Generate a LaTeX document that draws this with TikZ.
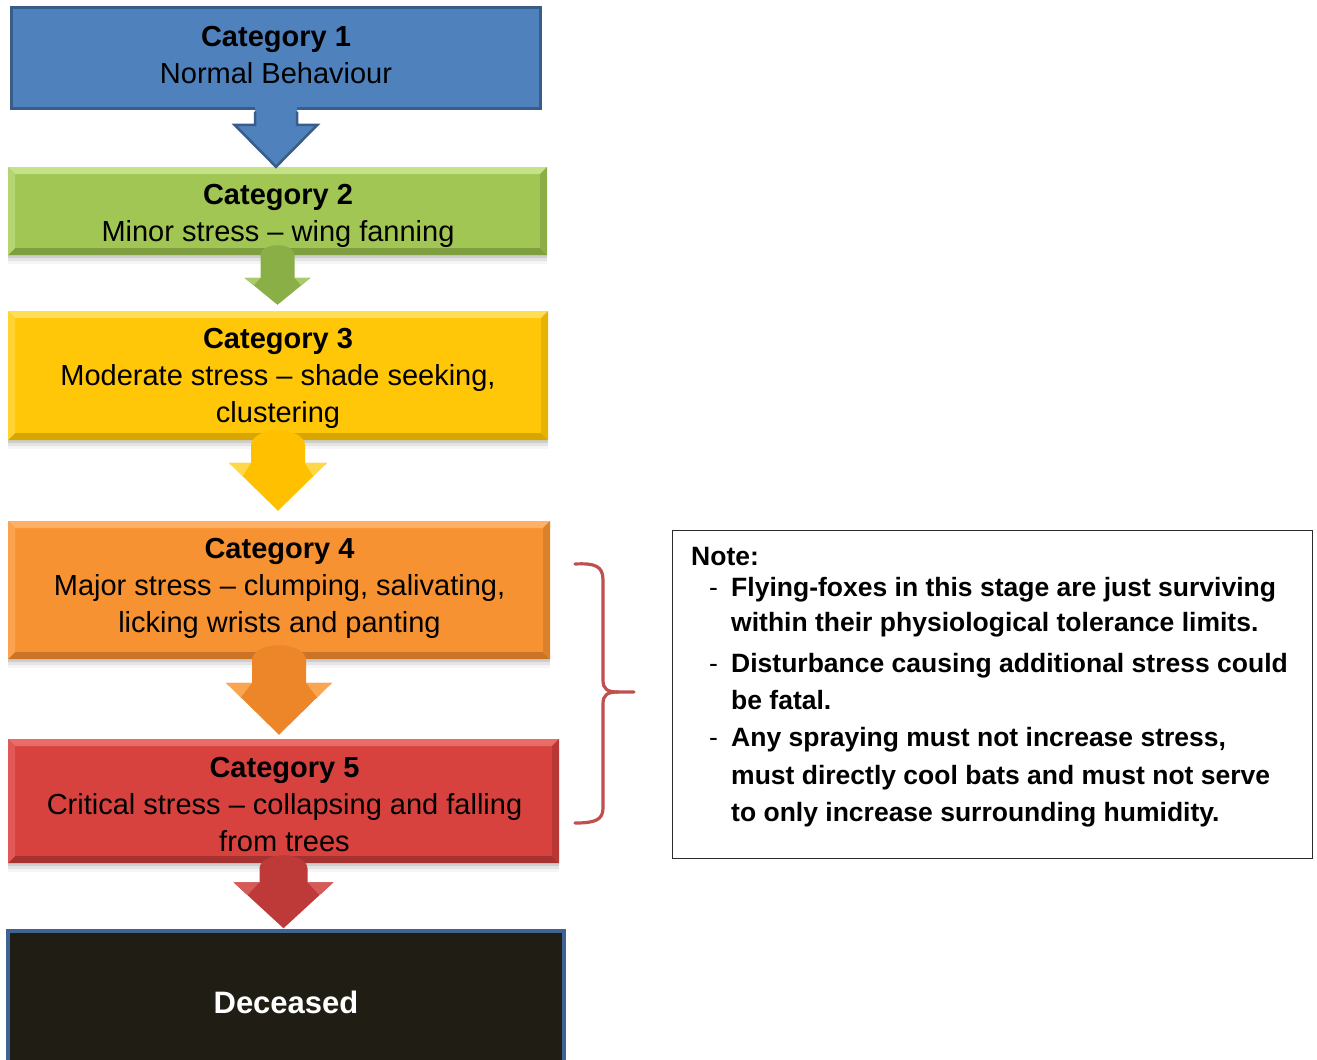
\documentclass[tikz,border=0pt]{standalone}
\usepackage{fontspec}
\setmainfont{Liberation Sans}
\usetikzlibrary{calc}

% palette
\definecolor{blueMain}{HTML}{4F81BD}
\definecolor{blueEdge}{HTML}{385D8A}
\definecolor{greenMain}{HTML}{A1C653}
\definecolor{greenLight}{HTML}{C4E28A}
\definecolor{greenDark}{HTML}{7F9E3F}
\definecolor{greenArrow}{HTML}{8BAF47}
\definecolor{greenFacet}{HTML}{A9CB6C}
\definecolor{yellowMain}{HTML}{FFC708}
\definecolor{yellowLight}{HTML}{FFDD55}
\definecolor{yellowDark}{HTML}{D7A600}
\definecolor{yellowArrow}{HTML}{FFC000}
\definecolor{yellowFacet}{HTML}{FFD84A}
\definecolor{orangeMain}{HTML}{F79232}
\definecolor{orangeLight}{HTML}{FFB066}
\definecolor{orangeDark}{HTML}{CB7326}
\definecolor{orangeArrow}{HTML}{EC8628}
\definecolor{orangeFacet}{HTML}{F9A552}
\definecolor{redMain}{HTML}{D7423F}
\definecolor{redLight}{HTML}{EA6B68}
\definecolor{redDark}{HTML}{A53230}
\definecolor{redArrow}{HTML}{BE3A38}
\definecolor{redFacet}{HTML}{D65A58}
\definecolor{deadFill}{HTML}{201E14}
\definecolor{deadEdge}{HTML}{3F6393}
\definecolor{braceRed}{HTML}{C0504D}
\definecolor{noteEdge}{HTML}{2B2B2B}

\tikzset{
  cattext/.style={inner sep=0pt, align=center, font=\fontsize{29}{37}\selectfont},
  softshadow/.style={
    preaction={fill=black, opacity=.10, transform canvas={yshift=-3pt}},
    preaction={fill=black, opacity=.07, transform canvas={yshift=-6pt}},
    preaction={fill=black, opacity=.04, transform canvas={yshift=-9pt}}},
  % bevelled box: #1 prefix of the colour family
  bevelbox/.style={inner sep=0pt, softshadow, fill=#1Main, path picture={
    \coordinate (pnw) at (path picture bounding box.north west);
    \coordinate (pne) at (path picture bounding box.north east);
    \coordinate (psw) at (path picture bounding box.south west);
    \coordinate (pse) at (path picture bounding box.south east);
    \fill[#1Light] (pnw) -- (pne) -- ([xshift=-7pt,yshift=-7pt]pne) -- ([xshift=7pt,yshift=-7pt]pnw) -- cycle;
    \fill[#1Dark] (psw) -- (pse) -- ([xshift=-7pt,yshift=7pt]pse) -- ([xshift=7pt,yshift=7pt]psw) -- cycle;
    \fill[#1Light!55!#1Main] (pnw) -- ([xshift=7pt,yshift=-7pt]pnw) -- ([xshift=7pt,yshift=7pt]psw) -- (psw) -- cycle;
    \fill[#1Dark!60!#1Main] (pne) -- ([xshift=-7pt,yshift=-7pt]pne) -- ([xshift=-7pt,yshift=7pt]pse) -- (pse) -- cycle;
  }},
  brace/.style={draw=braceRed, line width=3.2pt, line cap=round, line join=round},
}

% centred lines of a box label
\newcommand\catlines[1]{\begin{tabular}{@{}c@{}}#1\end{tabular}}

% rounded block arrow from one box to the next
% #1 source node, #2 target node, #3 gap above target, #4 shaft half-width,
% #5 head half-width, #6 head length, #7 dome top above source bottom, #8 colour prefix
\newcommand\flowarrow[8]{%
  \path (#1.south |- #2.north) ++(0,#3) coordinate (#1tip);
  \pgfmathsetmacro\domeh{0.55*#4}%
  \pgfmathsetmacro\domebase{#7-\domeh}%
  \pgfmathsetmacro\facety{0.72*#6}%
  \pgfmathsetmacro\facetx{#5*0.72}%
  \fill[#8Arrow] ([xshift=-#5pt,yshift=#6pt]#1tip) -- ([xshift=-#4pt,yshift=#6pt]#1tip)
    -- ([xshift=-#4pt,yshift=\domebase pt]#1.south)
    arc[start angle=180, end angle=0, x radius=#4, y radius=\domeh]
    -- ([xshift=#4pt,yshift=#6pt]#1tip) -- ([xshift=#5pt,yshift=#6pt]#1tip) -- (#1tip) -- cycle;
  \fill[#8Facet] ([xshift=-#5pt,yshift=#6pt]#1tip) -- ([xshift=-#4pt,yshift=#6pt]#1tip)
    -- ([xshift=-\facetx pt,yshift=\facety pt]#1tip) -- cycle;
  \fill[#8Facet] ([xshift=#5pt,yshift=#6pt]#1tip) -- ([xshift=#4pt,yshift=#6pt]#1tip)
    -- ([xshift=\facetx pt,yshift=\facety pt]#1tip) -- cycle;
}

\begin{document}
\begin{tikzpicture}[x=1pt, y=1pt]
\useasboundingbox (0,0) rectangle (1317,-1060);

% category boxes
\node[fill=blueMain, draw=blueEdge, line width=3pt, inner sep=0pt,
      minimum width=529, minimum height=101] (c1) at (276,-58) {};
\node[bevelbox=green, minimum width=539, minimum height=88] (c2) at (277.5,-211) {};
\node[bevelbox=yellow, minimum width=540, minimum height=129] (c3) at (278,-375.5) {};
\node[bevelbox=orange, minimum width=542, minimum height=138] (c4) at (279,-590) {};
\node[bevelbox=red, minimum width=551, minimum height=124] (c5) at (283.5,-801) {};
\node[fill=deadFill, draw=deadEdge, line width=3.5pt, minimum width=556, minimum height=144,
      inner sep=0pt, text=white, font=\fontsize{31}{36}\selectfont\bfseries] (dead) at (286,-1003)
  {\raisebox{2pt}{Deceased}};

% box labels
\node[cattext] (c1label) at (276,-58) {\catlines{{\bfseries Category 1}\\Normal Behaviour}};
\node[cattext] (c2label) at (278,-215.5) {\catlines{{\bfseries Category 2}\\Minor stress – wing fanning}};
\node[cattext] (c3label) at (278,-378) {\catlines{{\bfseries Category 3}\\Moderate stress – shade seeking,\\clustering}};
\node[cattext] (c4label) at (279.5,-588) {\catlines{{\bfseries Category 4}\\Major stress – clumping, salivating,\\licking wrists and panting}};
\node[cattext] (c5label) at (284.5,-807) {\catlines{{\bfseries Category 5}\\Critical stress – collapsing and falling\\from trees}};

% first arrow: flat with outline
\path (c1.south |- c2.north) coordinate (c1tip);
\fill[blueMain] ([xshift=-21pt,yshift=3pt]c1.south) -- ([xshift=-21pt,yshift=42pt]c1tip)
  -- ([xshift=-41.5pt,yshift=42pt]c1tip) -- (c1tip) -- ([xshift=41.5pt,yshift=42pt]c1tip)
  -- ([xshift=21pt,yshift=42pt]c1tip) -- ([xshift=21pt,yshift=3pt]c1.south) -- cycle;
\draw[blueEdge, line width=2.5pt, line join=miter] ([xshift=-21pt,yshift=-1.5pt]c1.south) -- ([xshift=-21pt,yshift=42pt]c1tip)
  -- ([xshift=-41.5pt,yshift=42pt]c1tip) -- (c1tip) -- ([xshift=41.5pt,yshift=42pt]c1tip)
  -- ([xshift=21pt,yshift=42pt]c1tip) -- ([xshift=21pt,yshift=-1.5pt]c1.south);

% bevelled arrows
\flowarrow{c2}{c3}{6}{17}{33}{27}{10}{green}
\flowarrow{c3}{c4}{10}{27}{49}{48}{10}{yellow}
\flowarrow{c4}{c5}{4}{27}{53}{52}{14}{orange}
\flowarrow{c5}{dead}{1}{24}{50}{46}{8}{red}

% brace spanning categories 4 and 5
\coordinate (bracetop) at (575,-564);
\coordinate (bracemid) at (634,-692);
\coordinate (bracebot) at (575,-823);
\draw[brace] (bracetop) .. controls (595,-563) and (603,-566) .. (603,-580) -- (603,-680)
  .. controls (603,-689) and (607,-692) .. (618,-692) -- (bracemid);
\draw[brace] (618,-692) .. controls (607,-692) and (603,-695) .. (603,-704) -- (603,-808)
  .. controls (603,-820) and (595,-823) .. (bracebot);

% note panel
\node[draw=noteEdge, line width=1pt, minimum width=640, minimum height=328, inner sep=0pt]
  (note) at (992.5,-694.5) {};
\node[anchor=north west, inner sep=0pt, font=\fontsize{26.5}{37}\selectfont\bfseries]
  (notetext) at (691,-539.6) {%
  \begin{tabular}{@{}l@{}l@{}}
  \multicolumn{2}{@{}l@{}}{Note:}\\[-6pt]
  \hspace*{18pt}\makebox[22pt][l]{\mdseries -} & Flying-foxes in this stage are just surviving\\[-2pt]
   & within their physiological tolerance limits.\\[4pt]
  \hspace*{18pt}\makebox[22pt][l]{\mdseries -} & Disturbance causing additional stress could\\
   & be fatal.\\
  \hspace*{18pt}\makebox[22pt][l]{\mdseries -} & Any spraying must not increase stress,\\[1pt]
   & must directly cool bats and must not serve\\
   & to only increase surrounding humidity.
  \end{tabular}};
\end{tikzpicture}
\end{document}
